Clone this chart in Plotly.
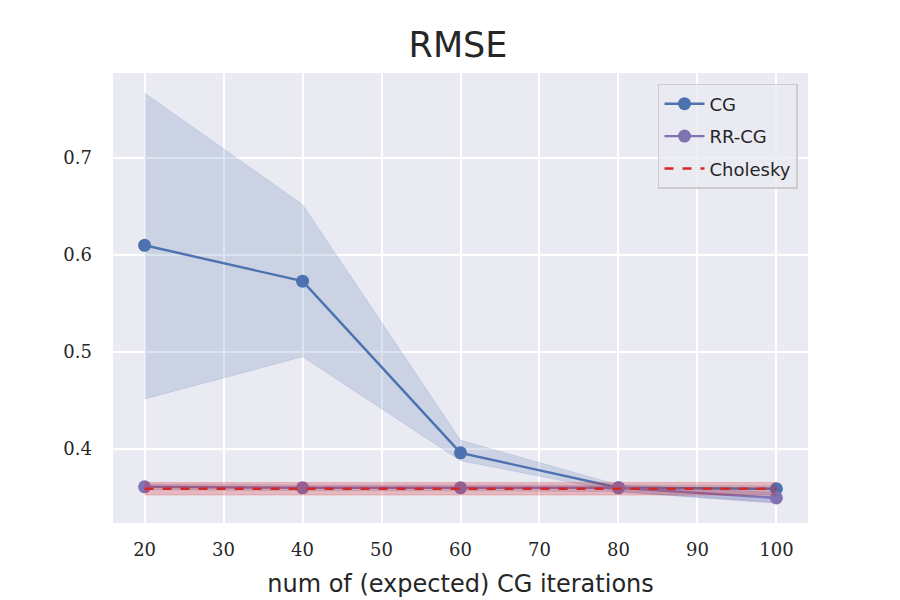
import plotly.graph_objects as go

iters = [20, 40, 60, 80, 100]
cg_mean = [0.610, 0.573, 0.396, 0.360, 0.359]
cg_upper = [0.767, 0.652, 0.409, 0.363, 0.362]
cg_lower = [0.4515, 0.495, 0.388, 0.356, 0.345]
rr_mean = [0.361, 0.360, 0.360, 0.360, 0.3495]
rr_upper = [0.364, 0.363, 0.363, 0.363, 0.355]
rr_lower = [0.358, 0.357, 0.357, 0.356, 0.344]
chol_mean = [0.359, 0.359, 0.359, 0.359, 0.359]
chol_upper = [0.3655, 0.3655, 0.3655, 0.3655, 0.3655]
chol_lower = [0.3525, 0.3525, 0.3525, 0.3525, 0.3525]
x_ticks = [20, 30, 40, 50, 60, 70, 80, 90, 100]
y_ticks = [0.4, 0.5, 0.6, 0.7]

CG_C = "#4C72B0"
RR_C = "#8172B3"
CH_C = "#d62728"

fig = go.Figure()

def band(lo, hi, fill, grp):
    fig.add_trace(go.Scatter(x=iters, y=lo, mode="lines", line=dict(width=0.8, color=fill),
                             showlegend=False, hoverinfo="skip", legendgroup=grp))
    fig.add_trace(go.Scatter(x=iters, y=hi, mode="lines", line=dict(width=0.8, color=fill),
                             fill="tonexty", fillcolor=fill, showlegend=False, hoverinfo="skip",
                             legendgroup=grp))

band(cg_lower, cg_upper, "rgba(76,114,176,0.2)", "a")
fig.add_trace(go.Scatter(x=iters, y=cg_mean, mode="lines+markers", name="CG", legendgroup="a",
                         line=dict(color=CG_C, width=2.4), marker=dict(size=13, color=CG_C)))
band(rr_lower, rr_upper, "rgba(129,114,179,0.25)", "b")
fig.add_trace(go.Scatter(x=iters, y=rr_mean, mode="lines+markers", name="RR-CG", legendgroup="b",
                         line=dict(color=RR_C, width=2.4), marker=dict(size=13, color=RR_C)))
band(chol_lower, chol_upper, "rgba(214,39,40,0.25)", "c")
fig.add_trace(go.Scatter(x=iters, y=chol_mean, mode="lines", name="Cholesky", legendgroup="c",
                         line=dict(color=CH_C, width=2.4, dash="dash")))

fig.update_layout(
    width=900, height=600,
    paper_bgcolor="white", plot_bgcolor="#EAEAF2",
    margin=dict(l=105, r=100, t=65, b=85),
    title=dict(text="RMSE", x=0.5, xanchor="center", y=0.938, yanchor="middle",
               font=dict(family="DejaVu Sans", size=35, color="#262626")),
    xaxis=dict(range=[16, 104], tickvals=x_ticks, ticktext=[str(v) for v in x_ticks],
               showgrid=True, gridcolor="white", gridwidth=1.5, zeroline=False,
               ticks="", ticklabelstandoff=14,
               tickfont=dict(family="DejaVu Serif", size=18, color="#262626"),
               title=dict(text="num of (expected) CG iterations", standoff=16,
                          font=dict(family="DejaVu Sans", size=24, color="#262626"))),
    yaxis=dict(range=[0.3237, 0.7876], tickvals=y_ticks, ticktext=[f"{v:.1f}" for v in y_ticks],
               showgrid=True, gridcolor="white", gridwidth=1.5, zeroline=False,
               ticks="", ticklabelstandoff=20,
               tickfont=dict(family="DejaVu Serif", size=18, color="#262626")),
    legend=dict(x=0.9856, y=0.9756, xanchor="right", yanchor="top",
                traceorder="grouped",
                bgcolor="rgba(234,234,242,0.8)", bordercolor="#cccccc", borderwidth=1.5,
                font=dict(family="DejaVu Sans", size=18, color="#262626"),
                tracegroupgap=6, itemwidth=40),
    showlegend=True,
)

fig.write_html("out.html")
